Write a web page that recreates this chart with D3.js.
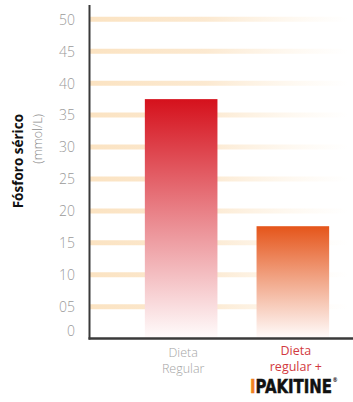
<!DOCTYPE html>
<html>
<head>
<meta charset="utf-8">
<script src="https://cdn.jsdelivr.net/npm/d3@7"></script>
<style>
  html, body { margin: 0; padding: 0; background: #fff; }
  svg { display: block; }
</style>
</head>
<body>
<svg id="chart" width="353" height="402"></svg>
<script>
// Serum phosphorus by diet group
const categories = ["Dieta Regular", "Dieta regular + IPAKITINE"];
const values = [37.5, 17.6];
const tickValues = [0, 5, 10, 15, 20, 25, 30, 35, 40, 45, 50];
const tickLabels = ["0", "05", "10", "15", "20", "25", "30", "35", "40", "45", "50"];
const barColors = ["#d5111c", "#e5551a"];

const svg = d3.select("#chart");
const defs = svg.append("defs");

const y = d3.scaleLinear().domain([0, 50]).range([338.6, 19.3]);
const x = d3.scaleBand().domain(categories).range([89, 385])
  .paddingInner(0.35).paddingOuter(0.5);

// fading stroke for the horizontal guide lines
const gg = defs.append("linearGradient").attr("id", "gridFade")
  .attr("gradientUnits", "userSpaceOnUse")
  .attr("x1", 90).attr("x2", 348).attr("y1", 0).attr("y2", 0);
gg.append("stop").attr("offset", "0%").attr("stop-color", "#fbe3c2").attr("stop-opacity", 1);
gg.append("stop").attr("offset", "45%").attr("stop-color", "#fbe5c8").attr("stop-opacity", 0.85);
gg.append("stop").attr("offset", "100%").attr("stop-color", "#fdf0dc").attr("stop-opacity", 0);

svg.append("g").selectAll("line")
  .data(tickValues.filter(v => v > 0))
  .join("line")
  .attr("x1", 90).attr("x2", 348)
  .attr("y1", d => y(d)).attr("y2", d => y(d))
  .attr("stroke", "url(#gridFade)")
  .attr("stroke-width", 5);

// vertical fades for the bars
barColors.forEach((c, i) => {
  const g = defs.append("linearGradient").attr("id", "barFade" + i)
    .attr("x1", 0).attr("x2", 0).attr("y1", 0).attr("y2", 1);
  g.append("stop").attr("offset", "0%").attr("stop-color", c);
  g.append("stop").attr("offset", "50%").attr("stop-color", d3.interpolateRgb(c, "#fff")(0.5));
  g.append("stop").attr("offset", "100%").attr("stop-color", "#fffcfc");
});

svg.append("g").selectAll("rect")
  .data(values)
  .join("rect")
  .attr("x", (d, i) => x(categories[i]))
  .attr("width", x.bandwidth())
  .attr("y", d => y(d))
  .attr("height", d => y(0) - y(d))
  .attr("fill", (d, i) => `url(#barFade${i})`);

// y axis labels
const yAxis = d3.axisLeft(y)
  .tickValues(tickValues)
  .tickFormat((d, i) => tickLabels[i])
  .tickSize(0)
  .tickPadding(14);
const ya = svg.append("g").attr("transform", "translate(89,0)").call(yAxis);
ya.select(".domain").remove();
ya.selectAll("text")
  .attr("font-family", "'Open Sans', sans-serif")
  .attr("font-weight", 300)
  .attr("font-size", 14)
  .attr("fill", "#9a9a9a")
  .attr("dy", (d) => d === 0 ? "-0.2em" : "0.35em");

// axis lines
svg.append("line").attr("x1", 89.5).attr("x2", 89.5).attr("y1", 5).attr("y2", 339.5)
  .attr("stroke", "#3a3a3a").attr("stroke-width", 2);
svg.append("line").attr("x1", 88.5).attr("x2", 353).attr("y1", 338.5).attr("y2", 338.5)
  .attr("stroke", "#3a3a3a").attr("stroke-width", 2.5);

// y title
const yt = svg.append("text")
  .attr("transform", "translate(23,114) rotate(-90)")
  .attr("text-anchor", "end")
  .attr("font-family", "'Open Sans', sans-serif");
yt.append("tspan").attr("x", 0).attr("y", 0)
  .attr("font-weight", 700).attr("font-size", 13.5).attr("fill", "#111")
  .text("Fósforo sérico");
yt.append("tspan").attr("x", 0).attr("y", 19)
  .attr("font-weight", 300).attr("font-size", 12.5).attr("fill", "#8a8a8a")
  .text("(mmol/L)");

// category labels
const c0 = x(categories[0]) + x.bandwidth() / 2;
const c1 = x(categories[1]) + x.bandwidth() / 2;
const lab0 = svg.append("text").attr("text-anchor", "middle")
  .attr("font-family", "'Open Sans', sans-serif").attr("font-weight", 300)
  .attr("font-size", 12.5).attr("fill", "#a5a5a5");
lab0.append("tspan").attr("x", c0 + 2).attr("y", 357).text("Dieta");
lab0.append("tspan").attr("x", c0 + 2).attr("y", 373).text("Regular");

const lab1 = svg.append("text").attr("text-anchor", "middle")
  .attr("font-family", "'Open Sans', sans-serif").attr("font-weight", 400)
  .attr("font-size", 12.5).attr("fill", "#d23a40");
lab1.append("tspan").attr("x", c1 + 3).attr("y", 355).text("Dieta");
lab1.append("tspan").attr("x", c1 + 3).attr("y", 370.5).text("regular +");

// brand mark with registered sign, condensed horizontally
const brand = svg.append("text")
  .attr("transform", "translate(250,393) scale(0.83,1)")
  .attr("font-family", "'Liberation Sans Narrow', 'DejaVu Sans Condensed', sans-serif")
  .attr("font-weight", 700).attr("font-size", 20)
  .attr("fill", "#111").attr("stroke", "#111").attr("stroke-width", 0.5);
brand.append("tspan").attr("fill", "#f0821e").attr("stroke", "#f0821e").text("I");
brand.append("tspan").text("PAKITINE");
brand.append("tspan").attr("font-size", 7).attr("stroke-width", 0)
  .attr("dx", 0.5).attr("dy", -11).text("®");
</script>
</body>
</html>
